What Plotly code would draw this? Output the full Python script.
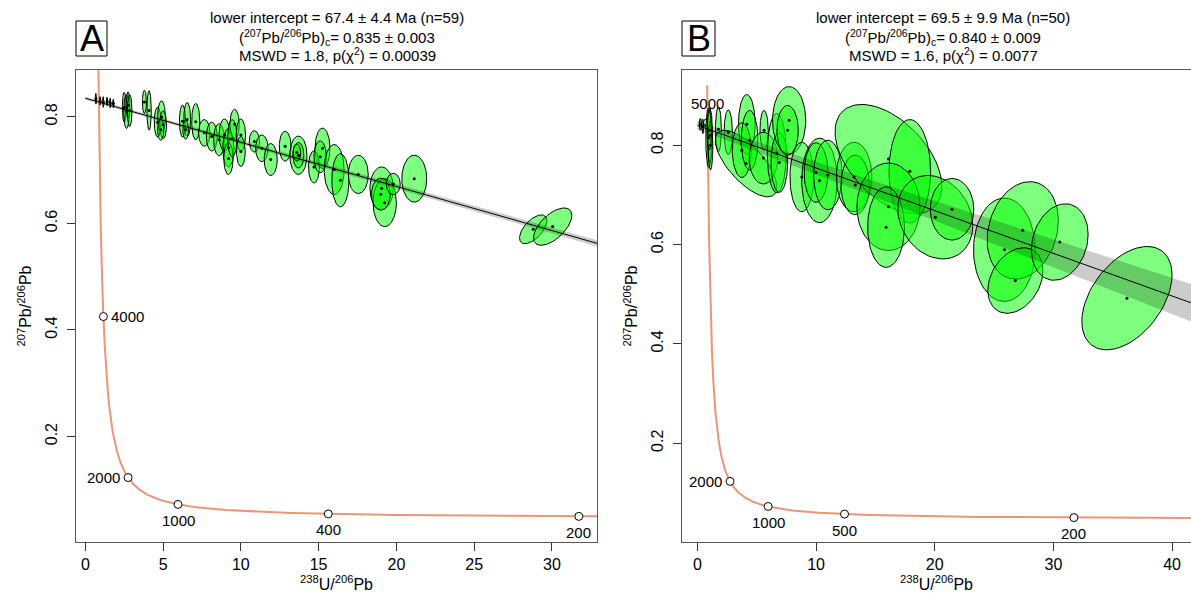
import numpy as np
import plotly.graph_objects as go

W, H = 1191, 594

# ---------------- data ----------------
# Panel A ellipses: centre x (238U/206Pb), centre y (207Pb/206Pb), half-width x, half-height y, correlation
A_x = [0.68, 0.95, 1.15, 1.40, 1.60, 1.80,
       2.50, 2.65, 2.75, 2.85, 3.80, 4.10,
       4.65, 4.90, 5.00, 4.85, 6.25, 6.55, 6.45, 7.10,
       7.65, 8.13, 8.60, 8.95, 9.20, 9.60, 9.20, 9.45,
       10.0, 10.0, 10.87, 11.35, 11.92, 12.85, 13.70, 13.70, 13.60,
       15.25, 14.70, 15.10, 16.00, 16.40, 17.55, 19.05, 19.25, 19.00,
       19.80, 21.15, 28.80, 30.05]
A_y = [0.834, 0.830, 0.828, 0.829, 0.826, 0.825,
       0.818, 0.810, 0.822, 0.812, 0.828, 0.812,
       0.790, 0.800, 0.785, 0.776, 0.792, 0.795, 0.776, 0.791,
       0.770, 0.763, 0.757, 0.766, 0.742, 0.786, 0.722, 0.760,
       0.766, 0.735, 0.754, 0.741, 0.720, 0.745, 0.728, 0.728, 0.733,
       0.741, 0.706, 0.725, 0.701, 0.681, 0.692, 0.666, 0.639, 0.655,
       0.674, 0.684, 0.589, 0.594]
A_sx = [0.04, 0.04, 0.04, 0.04, 0.04, 0.04,
        0.12, 0.18, 0.12, 0.15, 0.13, 0.14,
        0.22, 0.25, 0.22, 0.20, 0.20, 0.22, 0.18, 0.26,
        0.37, 0.35, 0.35, 0.35, 0.36, 0.30, 0.30, 0.30,
        0.30, 0.28, 0.33, 0.40, 0.42, 0.38, 0.55, 0.35, 0.25,
        0.48, 0.35, 0.40, 0.64, 0.55, 0.64, 0.75, 0.75, 0.60,
        0.45, 0.80, 0.88, 1.23]
A_sy = [0.010, 0.008, 0.010, 0.008, 0.009, 0.008,
        0.028, 0.032, 0.025, 0.030, 0.022, 0.037,
        0.028, 0.030, 0.026, 0.020, 0.030, 0.032, 0.018, 0.034,
        0.025, 0.027, 0.030, 0.030, 0.036, 0.028, 0.030, 0.035,
        0.030, 0.028, 0.020, 0.025, 0.030, 0.028, 0.036, 0.024, 0.016,
        0.038, 0.030, 0.030, 0.047, 0.050, 0.036, 0.040, 0.045, 0.030,
        0.020, 0.044, 0.027, 0.035]
A_rho = [0.0] * 48 + [0.6, 0.6]

# Panel B ellipses
B_x = [0.25, 0.45, 0.95, 1.05, 1.10, 1.00, 1.77, 2.60,
       4.10, 4.16, 3.74, 4.40, 5.62, 5.56, 6.69, 6.90, 7.73, 7.60,
       8.80, 10.29, 10.0, 11.0, 13.2, 13.3,
       16.1, 17.9, 16.1, 15.9, 20.05, 21.46,
       25.87, 27.42, 26.8, 30.54, 36.2]
B_y = [0.842, 0.838, 0.815, 0.820, 0.800, 0.830, 0.832, 0.826,
       0.763, 0.842, 0.790, 0.810, 0.830, 0.774, 0.784, 0.765, 0.850, 0.830,
       0.736, 0.729, 0.745, 0.740, 0.736, 0.720,
       0.772, 0.7475, 0.676, 0.635, 0.655, 0.671,
       0.5895, 0.6285, 0.5275, 0.605, 0.492]
B_sx = [0.10, 0.08, 0.25, 0.22, 0.20, 0.18, 0.25, 0.35,
        2.60, 0.70, 0.80, 0.70, 0.35, 1.20, 0.80, 0.70, 1.40, 0.90,
        1.00, 1.50, 1.00, 1.20, 1.50, 1.20,
        4.50, 1.75, 2.66, 1.55, 3.16, 1.83,
        2.60, 3.00, 2.32, 2.39, 3.80]
B_sy = [0.012, 0.015, 0.060, 0.055, 0.050, 0.040, 0.045, 0.045,
        0.067, 0.060, 0.055, 0.060, 0.040, 0.052, 0.080, 0.060, 0.068, 0.050,
        0.070, 0.085, 0.060, 0.070, 0.070, 0.060,
        0.110, 0.104, 0.088, 0.081, 0.084, 0.062,
        0.104, 0.098, 0.066, 0.077, 0.104]
B_rho = [0, 0, 0, 0, 0, 0, 0, 0,
         -0.7, 0, 0, 0, 0, 0, 0, 0, 0, 0,
         0, 0, 0, 0, 0, 0,
         -0.5, 0, 0, 0, -0.2, 0,
         0, 0.2, 0.3, 0.2, 0.45]

# Discordia results
A_int, A_int_err, A_age = 0.835, 0.003, 67.4
B_int, B_int_err, B_age = 0.840, 0.009, 69.5
A_slope_err, B_slope_err = 0.00015, 0.00088

A_title = ["lower intercept = 67.4 ± 4.4 Ma (n=59)",
           "(<sup>207</sup>Pb/<sup>206</sup>Pb)<sub>c</sub>= 0.835 ± 0.003",
           "MSWD = 1.8, p(χ<sup>2</sup>) = 0.00039"]
B_title = ["lower intercept = 69.5 ± 9.9 Ma (n=50)",
           "(<sup>207</sup>Pb/<sup>206</sup>Pb)<sub>c</sub>= 0.840 ± 0.009",
           "MSWD = 1.6, p(χ<sup>2</sup>) = 0.0077"]

A_ages = [200, 400, 1000, 2000, 4000]
A_age_pos = ["below", "below", "below", "left", "right"]
B_ages = [200, 500, 1000, 2000, 5000]
B_age_pos = ["below", "below", "below", "left", "above"]

A_xticks = [0, 5, 10, 15, 20, 25, 30]
B_xticks = [0, 10, 20, 30, 40]
yticks = [0.2, 0.4, 0.6, 0.8]

# ---------------- constants ----------------
L238, L235, U85 = 1.55125e-10, 9.8485e-10, 137.818


def tw(t_ma):
    t = np.asarray(t_ma, dtype=float) * 1e6
    e8 = np.exp(L238 * t) - 1
    e5 = np.exp(L235 * t) - 1
    return 1 / e8, e5 / (e8 * U85)


def ellipse(cx, cy, sx, sy, rho, n=80):
    t = np.linspace(0, 2 * np.pi, n)
    x = cx + sx * np.cos(t)
    y = cy + sy * (rho * np.cos(t) + np.sqrt(1 - rho ** 2) * np.sin(t))
    return x, y


fig = go.Figure()
FONT = "Liberation Sans, Arial, Helvetica, sans-serif"
SALMON = "#E9967A"
FS = 16
TS = 15


def panel(xs, ys, sxs, sys_, rhos, a, aerr, age, serr, ages, agepos, xr, xa, ya):
    # concordia
    t = np.concatenate([np.linspace(1, 100, 100), np.linspace(100, 5120, 2000)])
    cx, cy = tw(t)
    fig.add_trace(go.Scatter(x=cx, y=cy, mode="lines", line=dict(color=SALMON, width=2),
                             xaxis=xa, yaxis=ya, hoverinfo="skip"))
    ax, ay = tw(ages)
    fig.add_trace(go.Scatter(x=ax, y=ay, mode="markers",
                             marker=dict(size=8, color="white", line=dict(color="black", width=1)),
                             xaxis=xa, yaxis=ya, hoverinfo="skip"))
    # ellipses
    for i in range(len(xs)):
        ex, ey = ellipse(xs[i], ys[i], sxs[i], sys_[i], rhos[i])
        fig.add_trace(go.Scatter(x=ex, y=ey, mode="lines", fill="toself",
                                 fillcolor="rgba(0,255,0,0.5)",
                                 line=dict(color="black", width=1),
                                 xaxis=xa, yaxis=ya, hoverinfo="skip"))
    # discordia
    lx, ly = tw([age])
    slope = (ly[0] - a) / lx[0]
    gx = np.linspace(0, xr[1] + 2, 200)
    gy = a + slope * gx
    hw = np.sqrt(aerr ** 2 + (serr * gx) ** 2)
    fig.add_trace(go.Scatter(x=np.concatenate([gx, gx[::-1]]),
                             y=np.concatenate([gy + hw, (gy - hw)[::-1]]),
                             mode="lines", fill="toself", fillcolor="rgba(0,0,0,0.2)",
                             line=dict(width=0), xaxis=xa, yaxis=ya, hoverinfo="skip"))
    fig.add_trace(go.Scatter(x=gx, y=gy, mode="lines", line=dict(color="black", width=1),
                             xaxis=xa, yaxis=ya, hoverinfo="skip"))
    # centre dots
    fig.add_trace(go.Scatter(x=xs, y=ys, mode="markers", marker=dict(size=3, color="black"),
                             xaxis=xa, yaxis=ya, hoverinfo="skip"))
    # age labels
    for v, px_, py_, pos in zip(ages, ax, ay, agepos):
        kw = dict(xanchor="center", yanchor="middle", xshift=0, yshift=0)
        if pos == "below":
            kw.update(yshift=-16)
        elif pos == "above":
            kw.update(yshift=19)
        elif pos == "left":
            kw.update(xanchor="right", xshift=-6)
        elif pos == "right":
            kw.update(xanchor="left", xshift=6)
        fig.add_annotation(x=px_, y=py_, xref=xa, yref=ya, text=str(v), showarrow=False,
                           font=dict(family=FONT, size=TS, color="black"), **kw)


A_xr = [-0.6, 32.9]
B_xr = [-1.3, 41.6]
panel(A_x, A_y, A_sx, A_sy, A_rho, A_int, A_int_err, A_age, A_slope_err,
      A_ages, A_age_pos, A_xr, "x", "y")
panel(B_x, B_y, B_sx, B_sy, B_rho, B_int, B_int_err, B_age, B_slope_err,
      B_ages, B_age_pos, B_xr, "x2", "y2")

BOX = "#555"
axis_common = dict(showgrid=False, zeroline=False, showline=True, linecolor=BOX, linewidth=1,
                   ticks="outside", ticklen=8, tickcolor="#333", tickwidth=1,
                   tickfont=dict(family=FONT, size=FS, color="black"))
tfont = dict(family=FONT, size=FS, color="black")

ydom = [1 - 542 / H, 1 - 70 / H]
fig.update_layout(
    width=W, height=H, margin=dict(l=0, r=0, t=0, b=0, autoexpand=False),
    paper_bgcolor="white", plot_bgcolor="white", showlegend=False,
    xaxis=dict(domain=[76 / W, 597 / W], range=A_xr, tickvals=A_xticks, mirror=True,
               anchor="y", automargin=False,
               title=dict(text="<sup>238</sup>U/<sup>206</sup>Pb", font=tfont, standoff=4),
               **axis_common),
    yaxis=dict(domain=ydom, range=[0.002, 0.888], tickvals=yticks, tickangle=-90, mirror=True,
               anchor="x", ticklabelstandoff=4, automargin=False,
               title=dict(text="<sup>207</sup>Pb/<sup>206</sup>Pb", font=tfont, standoff=6),
               **axis_common),
    xaxis2=dict(domain=[682 / W, 1.0], range=B_xr, tickvals=B_xticks, mirror=True,
                anchor="y2", automargin=False,
                title=dict(text="<sup>238</sup>U/<sup>206</sup>Pb", font=tfont, standoff=4),
                **axis_common),
    yaxis2=dict(domain=ydom, range=[0.001, 0.9514], tickvals=yticks, tickangle=-90,
                anchor="x2", ticklabelstandoff=4, automargin=False,
                title=dict(text="<sup>207</sup>Pb/<sup>206</sup>Pb", font=tfont, standoff=6),
                **axis_common),
)

# titles
for cx, lines in [(337, A_title), (943, B_title)]:
    for k, (txt, py) in enumerate(zip(lines, [18, 37, 55])):
        fig.add_annotation(x=cx / W, y=1 - py / H, xref="paper", yref="paper",
                           text=txt, showarrow=False, xanchor="center", yanchor="middle",
                           font=dict(family=FONT, size=TS, color="black"))

# panel letters (box + letter)
for letter, x0, x1 in [("A", 76, 107), ("B", 682, 715)]:
    fig.add_shape(type="rect", xref="paper", yref="paper",
                  x0=x0 / W, x1=x1 / W, y0=1 - 56 / H, y1=1 - 21 / H,
                  line=dict(color="black", width=1), fillcolor="rgba(0,0,0,0)")
    fig.add_annotation(x=(x0 + x1) / 2 / W, y=1 - 39 / H, xref="paper", yref="paper",
                       text=letter, showarrow=False, xanchor="center", yanchor="middle",
                       font=dict(family=FONT, size=36, color="black"))

fig.write_html("out.html", config={"displayModeBar": False},
               post_script="document.body.style.margin='0px';")
